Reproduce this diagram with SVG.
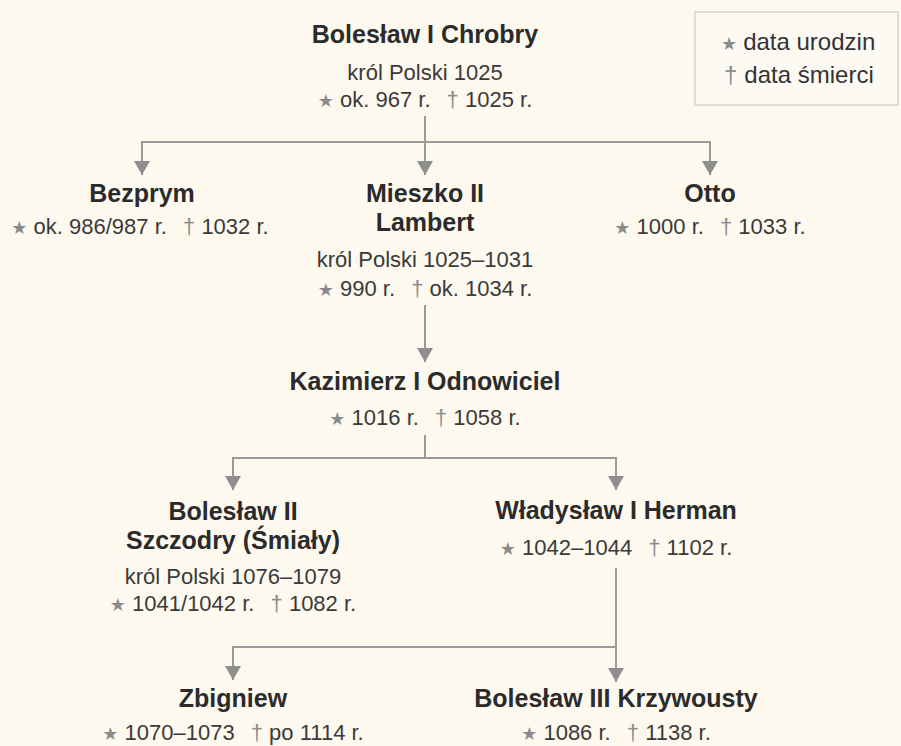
<svg xmlns="http://www.w3.org/2000/svg" width="901" height="746" viewBox="0 0 901 746">
<style>
text{font-family:"Liberation Sans",Arial,sans-serif;fill:#2a2a2a;text-anchor:middle}
.n{font-size:25px;font-weight:bold;fill:#2b2b2b}
.t{font-size:22px;fill:#3a3a3a}
.s{font-family:"DejaVu Sans",sans-serif;font-size:18px;fill:#8a8a8a}
.d{fill:#8a8a8a}
.lg{text-anchor:start;font-size:24px;fill:#333}
.c{stroke:#9a9a9a;stroke-width:2;fill:none}
</style>
<defs>
<marker id="ah" viewBox="0 0 14 16" markerWidth="14" markerHeight="16" refX="14" refY="8" orient="auto" markerUnits="userSpaceOnUse">
<path d="M0,0 L14,8 L0,16 z" fill="#8e8e8e"/>
</marker>
</defs>
<rect width="901" height="746" fill="#fdf9ef"/>
<g id="legend">
<rect x="695" y="12" width="203" height="93" fill="#fdfaf3" stroke="#d6d3cc" stroke-width="1.5"/>
<text class="lg" x="721" y="50"><tspan class="s">★</tspan><tspan dx="6">data urodzin</tspan></text>
<text class="lg" x="724" y="83"><tspan class="d">†</tspan><tspan dx="7">data śmierci</tspan></text>
</g>
<g id="connectors">
<path class="c" d="M425,116 V175" marker-end="url(#ah)"/>
<path class="c" d="M141,142 H711"/>
<path class="c" d="M142,142 V175" marker-end="url(#ah)"/>
<path class="c" d="M710,142 V175" marker-end="url(#ah)"/>
<path class="c" d="M425,305 V362" marker-end="url(#ah)"/>
<path class="c" d="M425,435 V458"/>
<path class="c" d="M232,458 H617"/>
<path class="c" d="M233,458 V490" marker-end="url(#ah)"/>
<path class="c" d="M616,458 V490" marker-end="url(#ah)"/>
<path class="c" d="M616,568 V682" marker-end="url(#ah)"/>
<path class="c" d="M232,647 H616"/>
<path class="c" d="M233,647 V680" marker-end="url(#ah)"/>
</g>
<g id="boleslaw1">
<text class="n" x="425" y="43">Bolesław I Chrobry</text>
<text class="t" x="425" y="80">król Polski 1025</text>
<text class="t" x="425" y="107"><tspan class="s">★</tspan> ok. 967 r. <tspan class="d" dx="10">†</tspan> 1025 r.</text>
</g>
<g id="bezprym">
<text class="n" x="142" y="202">Bezprym</text>
<text class="t" x="140" y="234"><tspan class="s">★</tspan> ok. 986/987 r. <tspan class="d" dx="10">†</tspan> 1032 r.</text>
</g>
<g id="mieszko2">
<text class="n" x="425" y="202">Mieszko II</text>
<text class="n" x="425" y="231">Lambert</text>
<text class="t" x="425" y="267">król Polski 1025–1031</text>
<text class="t" x="425" y="296"><tspan class="s">★</tspan> 990 r. <tspan class="d" dx="10">†</tspan> ok. 1034 r.</text>
</g>
<g id="otto">
<text class="n" x="710" y="202">Otto</text>
<text class="t" x="710" y="234"><tspan class="s">★</tspan> 1000 r. <tspan class="d" dx="10">†</tspan> 1033 r.</text>
</g>
<g id="kazimierz1">
<text class="n" x="425" y="390">Kazimierz I Odnowiciel</text>
<text class="t" x="425" y="425"><tspan class="s">★</tspan> 1016 r. <tspan class="d" dx="10">†</tspan> 1058 r.</text>
</g>
<g id="boleslaw2">
<text class="n" x="233" y="520">Bolesław II</text>
<text class="n" x="233" y="549">Szczodry (Śmiały)</text>
<text class="t" x="233" y="584">król Polski 1076–1079</text>
<text class="t" x="233" y="611"><tspan class="s">★</tspan> 1041/1042 r. <tspan class="d" dx="10">†</tspan> 1082 r.</text>
</g>
<g id="wladyslaw1">
<text class="n" x="616" y="519">Władysław I Herman</text>
<text class="t" x="616" y="555"><tspan class="s">★</tspan> 1042–1044 <tspan class="d" dx="10">†</tspan> 1102 r.</text>
</g>
<g id="zbigniew">
<text class="n" x="233" y="707">Zbigniew</text>
<text class="t" x="233" y="740"><tspan class="s">★</tspan> 1070–1073 <tspan class="d" dx="10">†</tspan> po 1114 r.</text>
</g>
<g id="boleslaw3">
<text class="n" x="616" y="707">Bolesław III Krzywousty</text>
<text class="t" x="616" y="740"><tspan class="s">★</tspan> 1086 r. <tspan class="d" dx="10">†</tspan> 1138 r.</text>
</g>
</svg>
